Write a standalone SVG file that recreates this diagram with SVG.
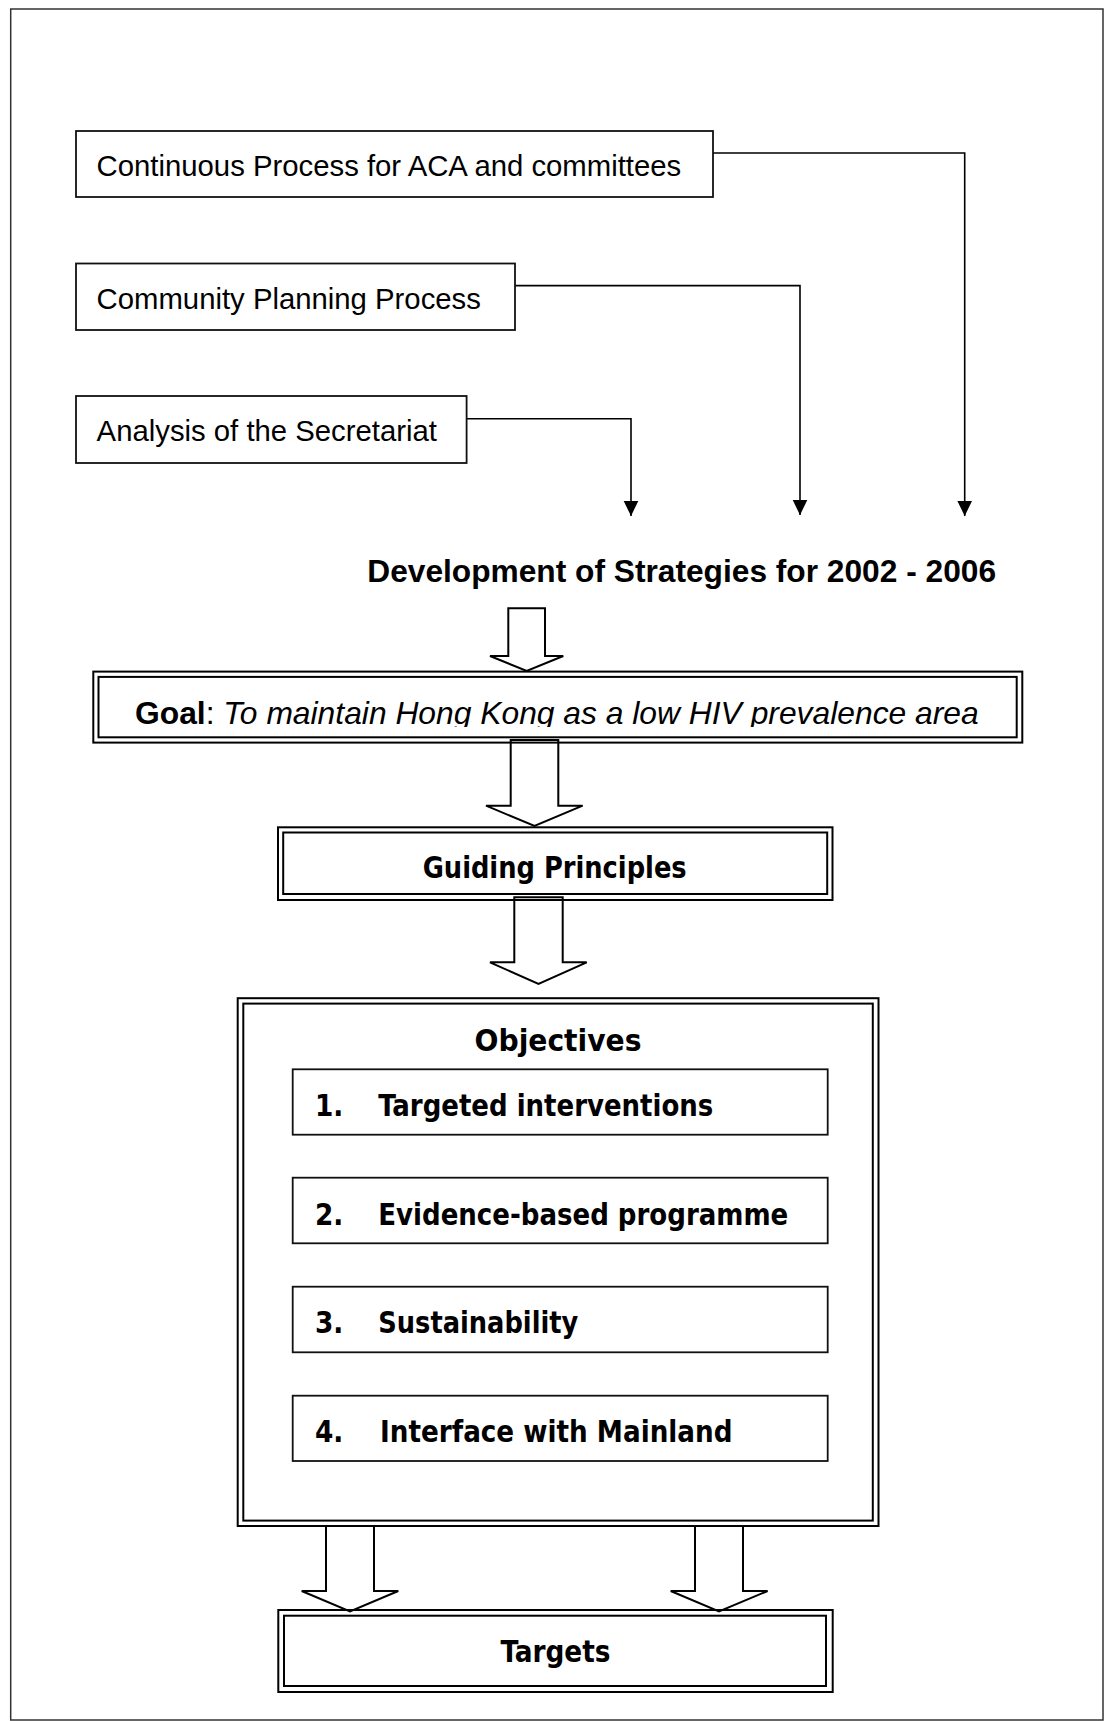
<svg xmlns="http://www.w3.org/2000/svg" width="1104" height="1721" viewBox="0 0 1104 1721">
<defs>
<style>
.frame{fill:none;stroke:#333;stroke-width:1.5}
.box{fill:none;stroke:#111;stroke-width:1.8}
.dbl{fill:none;stroke:#000;stroke-width:2}
.conn{fill:none;stroke:#000;stroke-width:1.6}
.blk{fill:#fff;stroke:#000;stroke-width:2;stroke-linejoin:miter}
.arial{font-family:"Liberation Sans",Arial,sans-serif;fill:#000}
.tah{font-family:"DejaVu Sans Condensed","DejaVu Sans",sans-serif;font-stretch:condensed;font-weight:bold;font-size:29.3px;fill:#000}
</style>
<marker id="ah" markerUnits="userSpaceOnUse" markerWidth="16" markerHeight="16" viewBox="0 0 16 16" refX="15" refY="8" orient="auto">
<path d="M0,0.7 L15,8 L0,15.3 Z" fill="#000"/>
</marker>
<clipPath id="goalclip"><rect x="98" y="677" width="918" height="50"/></clipPath>
</defs>
<rect x="0" y="0" width="1104" height="1721" fill="#fff"/>
<rect class="frame" x="10.7" y="9" width="1092.3" height="1711"/>

<g id="connectors">
<path class="conn" d="M713,153 H964.7 V516" marker-end="url(#ah)"/>
<path class="conn" d="M515,285.6 H800 V515" marker-end="url(#ah)"/>
<path class="conn" d="M466.6,418.7 H631 V516" marker-end="url(#ah)"/>
<polygon class="blk" points="508.3,608.3 545,608.3 545,656 563.3,656 526.7,671 490,656 508.3,656"/>
<polygon class="blk" points="510.7,740 558.3,740 558.3,805.7 582.7,805.7 534.5,826 486,805.7 510.7,805.7"/>
<polygon class="blk" points="514.3,897.3 562.7,897.3 562.7,962.3 586.7,962.3 538.5,984 490,962.3 514.3,962.3"/>
<polygon class="blk" points="326,1526 374,1526 374,1591 398.3,1591 350,1611.5 301.7,1591 326,1591"/>
<polygon class="blk" points="695,1526 743,1526 743,1591 767.6,1591 719,1611.5 670.7,1591 695,1591"/>
</g>

<g id="n-continuous">
<rect class="box" x="76" y="131" width="637" height="66"/>
<text class="arial" x="96.6" y="176" font-size="29.3">Continuous Process for ACA and committees</text>
</g>
<g id="n-community">
<rect class="box" x="76" y="263.5" width="439" height="66.5"/>
<text class="arial" x="96.6" y="308.5" font-size="29.3">Community Planning Process</text>
</g>
<g id="n-analysis">
<rect class="box" x="76" y="396" width="390.6" height="67"/>
<text class="arial" x="96.6" y="441" font-size="29.3">Analysis of the Secretariat</text>
</g>

<g id="n-title">
<text class="arial" x="367.3" y="582.3" font-size="31.7" font-weight="bold">Development of Strategies for 2002 - 2006</text>
</g>

<g id="n-goal">
<rect class="dbl" x="93.3" y="671.6" width="929" height="71"/>
<rect class="dbl" x="98.5" y="676.9" width="918.2" height="60.4"/>
<text class="arial" x="135" y="723.5" font-size="31.8" clip-path="url(#goalclip)"><tspan font-weight="bold">Goal</tspan>: <tspan font-style="italic">To maintain Hong Kong as a low HIV prevalence area</tspan></text>
</g>

<g id="n-guiding">
<rect class="dbl" x="278" y="827.3" width="554.5" height="72.7"/>
<rect class="dbl" x="283.2" y="832.5" width="544" height="61.5"/>
<text class="tah" x="422.7" y="878.3" textLength="264" lengthAdjust="spacingAndGlyphs">Guiding Principles</text>
</g>

<g id="n-objectives">
<rect class="dbl" x="237.7" y="998.2" width="640.8" height="527.8"/>
<rect class="dbl" x="243.3" y="1003.6" width="629.5" height="517"/>
<text class="tah" x="474.5" y="1051" textLength="167" lengthAdjust="spacingAndGlyphs">Objectives</text>
</g>
<g id="n-obj1">
<rect class="box" x="292.7" y="1069.3" width="535" height="65.4"/>
<text class="tah" x="315" y="1116.3">1.</text>
<text class="tah" x="378.3" y="1116.3" textLength="335" lengthAdjust="spacingAndGlyphs">Targeted interventions</text>
</g>
<g id="n-obj2">
<rect class="box" x="292.7" y="1177.7" width="535" height="65.6"/>
<text class="tah" x="315" y="1225">2.</text>
<text class="tah" x="378.3" y="1225" textLength="410" lengthAdjust="spacingAndGlyphs">Evidence-based programme</text>
</g>
<g id="n-obj3">
<rect class="box" x="292.7" y="1286.7" width="535" height="65.6"/>
<text class="tah" x="315" y="1333.3">3.</text>
<text class="tah" x="378.3" y="1333.3" textLength="200" lengthAdjust="spacingAndGlyphs">Sustainability</text>
</g>
<g id="n-obj4">
<rect class="box" x="292.7" y="1395.7" width="535" height="65.3"/>
<text class="tah" x="315" y="1442.3">4.</text>
<text class="tah" x="380" y="1442.3" textLength="352.5" lengthAdjust="spacingAndGlyphs">Interface with Mainland</text>
</g>

<g id="n-targets">
<rect class="dbl" x="278.3" y="1610" width="554.4" height="82"/>
<rect class="dbl" x="284" y="1615.7" width="542" height="70.3"/>
<text class="tah" x="500.5" y="1662" textLength="110" lengthAdjust="spacingAndGlyphs">Targets</text>
</g>
</svg>
